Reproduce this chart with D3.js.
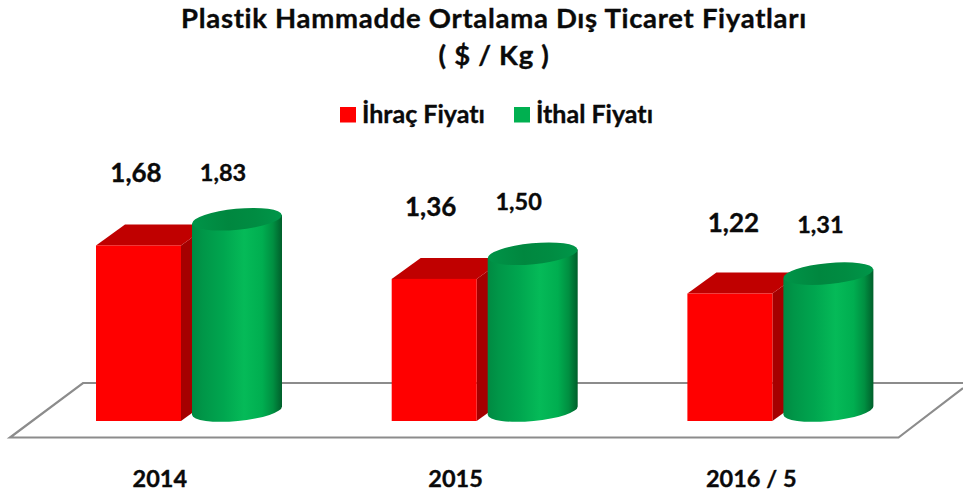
<!DOCTYPE html>
<html><head><meta charset="utf-8">
<script src="https://cdnjs.cloudflare.com/ajax/libs/d3/7.8.5/d3.min.js"></script>
<style>html,body{margin:0;background:#fff}svg{display:block}text{font-family:Lato,"Open Sans",sans-serif;font-weight:700;fill:#0a0a0a;stroke:#0a0a0a;stroke-width:.35px;font-variant-ligatures:none;font-feature-settings:"liga" 0,"dlig" 0}</style>
</head><body><svg id="c" width="963" height="497"></svg>
<script>
const categories = ["2014","2015","2016 / 5"];
const series = ["İhraç Fiyatı","İthal Fiyatı"];
const ihrac = [1.68,1.36,1.22];
const ithal = [1.83,1.50,1.31];
const titleLines = ["Plastik Hammadde Ortalama Dış Ticaret Fiyatları","( $ / Kg )"];

const svg = d3.select("#c");
const fmt = v => d3.format(".2f")(v).replace(".",",");

// Hand-placed label offsets from each bar
const ihracLabelDx = [40,39,46], ihracLabelLift = [63,63,62];
const ithalLabelDx = [-14,-14,-8], ithalLabelLift = [38,44,41];

const defs = svg.append("defs");
function grad(id,stops){
  const g=defs.append("linearGradient").attr("id",id).attr("x1",0).attr("x2",1).attr("y1",0).attr("y2",0);
  stops.forEach(s=>g.append("stop").attr("offset",s[0]).attr("stop-color",s[1]));
}
grad("cyl",[[0,"#008a42"],[.12,"#009648"],[.35,"#00a64f"],[.58,"#05ba58"],[.78,"#00ae50"],[.9,"#008f41"],[1,"#005f2b"]]);
grad("cyltop",[[0,"#009448"],[.4,"#00873f"],[.7,"#008c42"],[1,"#009649"]]);

// Scales
const x0 = d3.scaleBand().domain(categories).range([96,873.5]).paddingInner(.3706);
const x1 = d3.scalePoint().domain(series).range([0,96]);
const baseY = 421, cylBaseY = 410.5;
const y = d3.scaleLinear().domain([0,1]).range([0,104.5]);
const redW = 85, cylW = 90, dx = 29, dy = 21;
const rx = cylW/2, ry = 10.5, tilt = -5.5;
const halfRise = rx*Math.sin(-tilt*Math.PI/180);

// Floor
const floor = d3.path();
floor.moveTo(963,388); floor.lineTo(898.5,437.5); floor.lineTo(10,437.5); floor.lineTo(83,383); floor.lineTo(963,383);
svg.append("path").attr("d",floor.toString()).attr("fill","#fff").attr("stroke","#8c8c8c").attr("stroke-width",2.2).attr("stroke-linejoin","miter");

// Bars
const g = svg.selectAll("g.grp").data(categories).join("g").attr("class","grp")
  .attr("transform",d=>`translate(${x0(d)},0)`);

g.each(function(d,i){
  const s=d3.select(this);
  const rl=x1(series[0]), h=y(ihrac[i]), top=baseY-h;
  const poly=pts=>"M"+pts.map(p=>p.join(",")).join("L")+"Z";
  s.append("path").attr("d",poly([[rl+redW,top],[rl+redW+dx,top-dy],[rl+redW+dx,baseY-dy],[rl+redW,baseY]])).attr("fill","#a50000");
  s.append("path").attr("d",poly([[rl,top],[rl+dx,top-dy],[rl+redW+dx,top-dy],[rl+redW,top]])).attr("fill","#c00000");
  s.append("rect").attr("x",rl).attr("y",top).attr("width",redW).attr("height",h).attr("fill","#ff0000");

  const cl=x1(series[1]), ch=y(ithal[i]), cx=cl+rx, ct=cylBaseY-ch;
  const arc=`A${rx},${ry} ${tilt} 0 0 `;
  s.append("path").attr("d",`M${cl},${ct+halfRise}L${cl},${cylBaseY+halfRise}${arc}${cl+cylW},${cylBaseY-halfRise}L${cl+cylW},${ct-halfRise}Z`).attr("fill","url(#cyl)");
  s.append("ellipse").attr("cx",0).attr("cy",0).attr("rx",rx).attr("ry",ry)
    .attr("transform",`translate(${cx},${ct}) rotate(${tilt})`).attr("fill","url(#cyltop)");

  s.append("text").attr("x",rl+ihracLabelDx[i]).attr("y",top-ihracLabelLift[i]).attr("text-anchor","middle").attr("font-size",26).text(fmt(ihrac[i]));
  s.append("text").attr("x",cx+ithalLabelDx[i]).attr("y",ct-ithalLabelLift[i]).attr("text-anchor","middle").attr("font-size",23.5).text(fmt(ithal[i]));
});

// Category axis
const xAxis = d3.scaleBand().domain(categories).range([12,12+295.7*3]);
const ax = svg.append("g").attr("transform","translate(0,466)").call(d3.axisBottom(xAxis).tickSize(0));
ax.select(".domain").remove();
ax.selectAll("text").style("font-family","Lato,'Open Sans',sans-serif").style("font-weight",700).style("font-size","23.5px").attr("dy",0).attr("y",21);

// Title
svg.selectAll("text.title").data(titleLines).join("text").attr("class","title")
  .attr("x",494).attr("y",(d,i)=>27.5+i*37).attr("text-anchor","middle").attr("font-size",27.5).attr("letter-spacing",.7).text(d=>d);

// Legend
const legX = d3.scaleOrdinal().domain(series).range([340,514]);
const legColor = d3.scaleOrdinal().domain(series).range(["#ff0000","#00b050"]);
const leg = svg.selectAll("g.leg").data(series).join("g").attr("class","leg").attr("transform",d=>`translate(${legX(d)},0)`);
leg.append("rect").attr("y",107).attr("width",16).attr("height",15.5).attr("fill",d=>legColor(d));
leg.append("text").attr("x",22).attr("y",123).attr("font-size",25).text(d=>d);
</script></body></html>
